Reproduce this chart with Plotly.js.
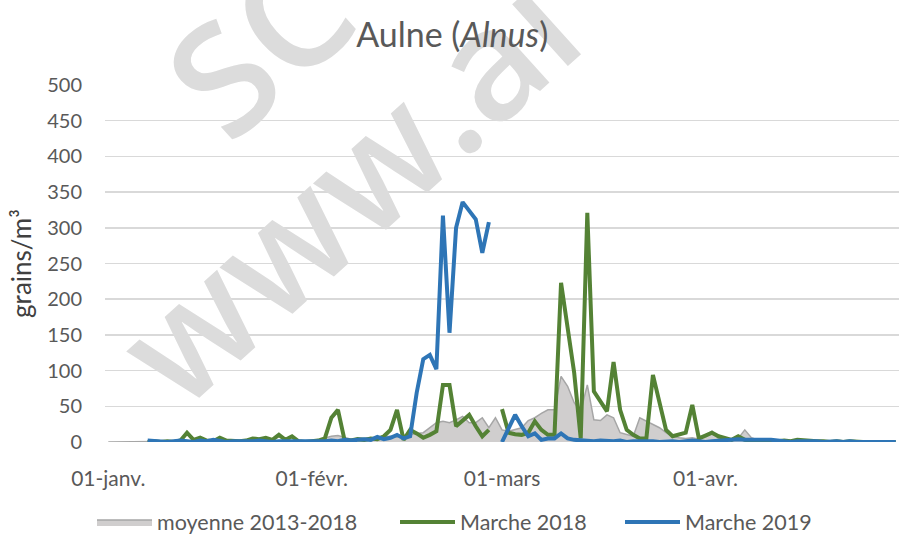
<!DOCTYPE html>
<html>
<head>
<meta charset="utf-8">
<script src="https://cdn.plot.ly/plotly-3.0.1.min.js"></script>
<style>html,body{margin:0;padding:0;background:#fff;}#chart{width:899px;height:535px;}</style>
</head>
<body>
<div id="chart"></div>
<script>
// Day-by-day categories: 01-janv. .. 30-avr. (leap-year calendar, includes 29-févr.)
const startDate = '2016-01-01';
const nDays = 121;
const tickDates = ['2016-01-01', '2016-02-01', '2016-03-01', '2016-04-01'];
const tickLabels = ['01-janv.', '01-févr.', '01-mars', '01-avr.'];

// moyenne 2013-2018 (grains/m³)
const moyenne = [
  0,0,0,0,0,0,1,0,1,1, 0,1,2,1,1,1,0,1,1,1,
  0,1,1,2,1,1,1,2,1,1, 1,2,3,6,8,9,6,4,4,5,
  5,6,7,8,7,9,10,12,13,20, 27,29,27,31,36,27,27,34,20,34,
  17,15,17,20,30,34,40,45,45,92, 78,55,43,80,31,30,38,34,13,10,
  8,34,29,25,20,13,8,6,5,6, 4,10,15,5,4,3,5,17,6,3,
  2,2,1,2,1,1,2,1,1,1, 0,1,1,0,1,0,0,1,0,0, 0
];

// Marche 2018 (null = no data)
const marche2018 = [
  null,null,null,null,null,null,0,1,0,1, 0,2,13,3,6,2,1,6,2,1,
  1,2,5,4,6,3,10,3,8,1, 0,1,2,5,34,45,3,2,4,3,
  5,4,8,17,45,3,17,12,6,10, 15,80,80,22,30,38,22,8,17,null,
  46,13,11,10,13,29,17,10,10,223, 160,97,5,321,71,57,43,112,45,17,
  10,5,5,94,55,17,8,10,13,52, 5,9,13,8,5,3,8,3,2,1,
  2,1,1,2,1,3,2,1,1,1, 0,1,0,1,0,0,0,0,0,0, 0
];

// Marche 2019 (null = no data)
const marche2019 = [
  null,null,null,null,null,null,2,1,1,0, 1,2,1,0,2,1,3,1,0,1,
  1,0,1,2,1,0,1,1,0,1, 0,1,0,1,2,1,3,2,3,4,
  3,7,4,6,10,5,8,69,116,122, 102,317,153,300,336,324,312,265,308,null,
  0,19,38,22,8,12,3,5,5,12, 5,3,2,2,1,2,1,1,2,0,
  1,1,2,1,0,1,1,0,1,2, 1,0,1,2,2,3,4,3,3,3,
  4,3,2,1,0,1,1,2,1,0, 1,1,0,1,0,0,0,0,0,0, 0
];

function buildDates(start, n) {
  const out = [];
  const d0 = new Date(start + 'T00:00:00Z');
  for (let i = 0; i < n; i++) {
    const d = new Date(d0.getTime() + i * 86400000);
    out.push(d.toISOString().slice(0, 10));
  }
  return out;
}
const days = buildDates(startDate, nDays);

const textGrey = '#595959';
const font = 'Lato, "Open Sans", sans-serif';

const traces = [
  {
    x: days, y: moyenne, name: 'moyenne 2013-2018', type: 'scatter', mode: 'lines',
    fill: 'tozeroy', fillcolor: '#d0cece', line: {color: '#a6a6a6', width: 1.5},
    legend: 'legend'
  },
  {
    x: days, y: marche2018, name: 'Marche 2018', type: 'scatter', mode: 'lines',
    connectgaps: false, line: {color: '#548235', width: 4}, legend: 'legend2'
  },
  {
    x: days, y: marche2019, name: 'Marche 2019', type: 'scatter', mode: 'lines',
    connectgaps: false, line: {color: '#2e75b6', width: 4}, legend: 'legend3'
  }
];

// plot area in px: x 105..899, y 85..442
function px(xp) { return (xp - 105) / 794; }
function py(yp) { return (442 - yp) / 357; }

const wmFont = {family: '"Open Sans", sans-serif', size: 154, color: '#dcdcdc', weight: 600};

function legendAt(leftPx) {
  return {
    orientation: 'h',
    xref: 'container', x: leftPx / 899, xanchor: 'left',
    yref: 'container', y: 1 - 522 / 535, yanchor: 'middle',
    font: {family: font, size: 21.5, color: textGrey},
    itemwidth: 55, bgcolor: 'rgba(0,0,0,0)'
  };
}

const layout = {
  width: 899, height: 535,
  margin: {l: 105, r: 0, t: 85, b: 93},
  paper_bgcolor: '#ffffff', plot_bgcolor: '#ffffff',
  annotations: [
    {text: 'SC', xref: 'paper', yref: 'paper', x: px(257), y: py(42),
     xanchor: 'center', yanchor: 'middle', showarrow: false, textangle: -42, font: wmFont},
    {text: 'www.ai', xref: 'paper', yref: 'paper', x: px(345), y: py(186),
     xanchor: 'center', yanchor: 'middle', showarrow: false, textangle: -42, font: wmFont}
  ],
  title: {
    text: 'Aulne (<i>Alnus</i>)',
    font: {family: font, size: 34, color: textGrey},
    x: 0.503, xref: 'container', xanchor: 'center',
    y: 1 - 35 / 535, yref: 'container', yanchor: 'middle'
  },
  xaxis: {
    type: 'date',
    range: ['2015-12-31 12:00', '2016-04-30 12:00'],
    tickmode: 'array', tickvals: tickDates, ticktext: tickLabels,
    showgrid: false, zeroline: false, showline: false,
    ticks: 'outside', ticklen: 18, tickcolor: 'rgba(0,0,0,0)',
    tickfont: {family: font, size: 21, color: textGrey},
    fixedrange: true
  },
  yaxis: {
    range: [0, 500], dtick: 50, tick0: 0,
    showgrid: true, gridcolor: '#d9d9d9', gridwidth: 1.5,
    zeroline: false, showline: false,
    ticks: 'outside', ticklen: 18, tickcolor: 'rgba(0,0,0,0)',
    tickfont: {family: font, size: 20, color: textGrey},
    title: {text: 'grains/m³', font: {family: font, size: 26, color: '#404040'}, standoff: 8},
    automargin: false,
    fixedrange: true
  },
  showlegend: true,
  legend: legendAt(92),
  legend2: legendAt(395),
  legend3: legendAt(620)
};

Plotly.newPlot('chart', traces, layout, {displayModeBar: false, staticPlot: true}).then(function () {
  // keep the chart title above the watermark, as in the original
  const t = document.querySelector('.g-gtitle');
  if (t && t.parentNode) t.parentNode.appendChild(t);
});
</script>
</body>
</html>
